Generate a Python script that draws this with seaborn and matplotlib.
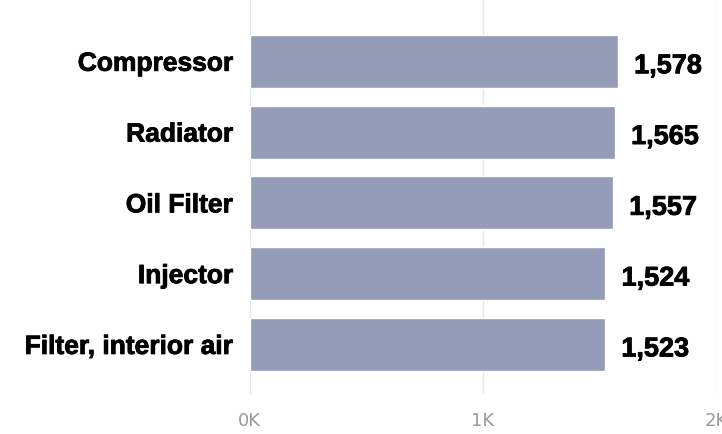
import pandas as pd
import matplotlib.pyplot as plt
import matplotlib.patheffects as pe
import seaborn as sns

parts = ["Compressor", "Radiator", "Oil Filter", "Injector", "Filter, interior air"]
counts = [1578, 1565, 1557, 1524, 1523]
xticks = [0, 1000, 2000]
xtick_labels = ["0K", "1K", "2K"]

df = pd.DataFrame({"part": parts, "count": counts})

sns.set_theme(style="white")
plt.rcParams['font.family'] = ['Liberation Sans', 'DejaVu Sans']

fig = plt.figure(figsize=(7.22, 4.35), dpi=100)
ax = fig.add_axes([0.346, 0.092, 0.646, 0.908])

sns.barplot(data=df, x="count", y="part", color="#949cb7", saturation=1,
            width=0.75, ax=ax)

thick = [pe.withStroke(linewidth=0.6, foreground="black")]

ax.set_xlim(0, 2000)
ax.set_ylim(4.70, -0.88)
ax.set_xticks(xticks)
ax.set_xticklabels(xtick_labels, color="#9a9a9a", fontsize=13, family="DejaVu Sans")
ax.tick_params(axis="x", length=0, pad=12)
ax.tick_params(axis="y", length=0, pad=12)
for lbl in ax.get_yticklabels():
    lbl.set_fontweight("bold")
    lbl.set_fontsize(19)
    lbl.set_color("black")
    lbl.set_path_effects(thick)
ax.set_xlabel("")
ax.set_ylabel("")
for x in xticks:
    ax.axvline(x, color="#e6e6e6", lw=1, zorder=0)
for s in ax.spines.values():
    s.set_visible(False)

for i, v in enumerate(counts):
    ax.text(v + 70, i + 0.07, f"{v:,}", va="center", ha="left",
            fontsize=19.5, fontweight="bold", color="black", path_effects=thick)

plt.savefig("out.png", dpi=100)
